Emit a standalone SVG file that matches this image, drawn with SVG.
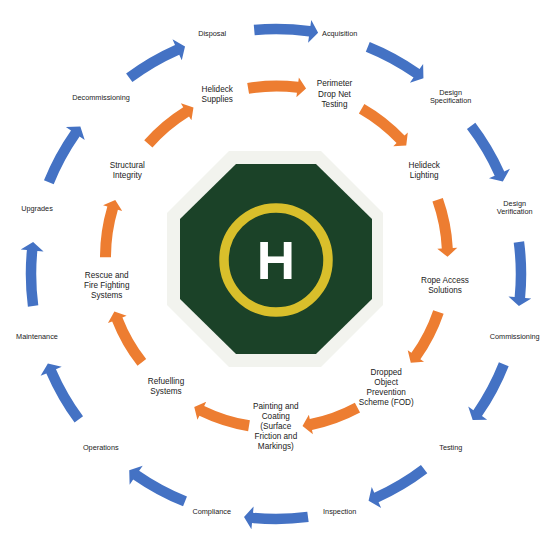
<svg xmlns="http://www.w3.org/2000/svg" width="555" height="545" viewBox="0 0 555 545">
<style>
  .o { font-family: "Liberation Sans", Arial, sans-serif; font-size: 7.3px; fill: #222; text-anchor: middle; }
  .i { font-family: "Liberation Sans", Arial, sans-serif; font-size: 8.2px; fill: #222; text-anchor: middle; }
  .blue { fill: #4472C4; }
  .orange { fill: #ED7D31; }
</style>
<defs>
  <path id="arB" d="M243.34,25.89 A250.25,250.25 0 0 1 299.99,24.90 L300.58,18.68 L307.98,31.10 L298.38,41.57 L298.98,35.35 A239.75,239.75 0 0 0 244.71,36.30 Z"/>
  <path id="arO" d="M246.61,83.05 A176.5,176.5 0 0 1 297.70,81.78 L298.25,77.31 L305.46,88.47 L295.84,97.17 L296.38,92.70 A165.5,165.5 0 0 0 248.47,93.89 Z"/>
</defs>
<rect width="555" height="545" fill="#fff"/>

<g id="helipad">
  <polygon points="229,151 321,151 383,213 383,305 321,367 229,367 167,305 167,213" fill="#F2F3EE"/>
  <polygon points="236,164 316,164 372,219 372,299 316,354 236,354 180,299 180,219" fill="#1B4228"/>
  <circle cx="276" cy="260" r="52" fill="none" stroke="#D9BF2B" stroke-width="9.5"/>
  <text x="276" y="279" font-family="Liberation Sans, Arial, sans-serif" font-weight="bold" font-size="53" fill="#fff" text-anchor="middle">H</text>
</g>

<g id="connectors">
  <g class="blue">
    <use href="#arB" transform="rotate(2.4 276 274)"/>
    <use href="#arB" transform="rotate(29.5 276 274)"/>
    <use href="#arB" transform="rotate(60.3 276 274)"/>
    <use href="#arB" transform="rotate(90 276 274)"/>
    <use href="#arB" transform="rotate(119.1 276 274)"/>
    <use href="#arB" transform="rotate(150.3 276 274)"/>
    <use href="#arB" transform="rotate(180 276 274)"/>
    <use href="#arB" transform="rotate(209.3 276 274)"/>
    <use href="#arB" transform="rotate(241.1 276 274)"/>
    <use href="#arB" transform="rotate(270 276 274)"/>
    <use href="#arB" transform="rotate(299.5 276 274)"/>
    <use href="#arB" transform="rotate(330.7 276 274)"/>
  </g>
  <g class="orange">
    <use href="#arO" transform="rotate(0.2 276.5 257)"/>
    <use href="#arO" transform="rotate(39.6 276.5 257)"/>
    <use href="#arO" transform="rotate(80.2 276.5 257)"/>
    <use href="#arO" transform="rotate(118.5 276.5 257)"/>
    <use href="#arO" transform="rotate(161.5 276.5 257)"/>
    <use href="#arO" transform="rotate(199 276.5 257)"/>
    <use href="#arO" transform="rotate(241.7 276.5 257)"/>
    <use href="#arO" transform="rotate(279.7 276.5 257)"/>
    <use href="#arO" transform="rotate(321.2 276.5 257)"/>
  </g>
</g>

<g id="disposal"><text class="o" x="212.2" y="35.8">Disposal</text></g>
<g id="acquisition"><text class="o" x="339.7" y="35.8">Acquisition</text></g>
<g id="design-specification"><text class="o" x="450.6" y="94.8">Design</text><text class="o" x="450.6" y="103.2">Specification</text></g>
<g id="design-verification"><text class="o" x="514.7" y="205.8">Design</text><text class="o" x="514.7" y="213.8">Verification</text></g>
<g id="commissioning"><text class="o" x="514.7" y="339.2">Commissioning</text></g>
<g id="testing"><text class="o" x="450.8" y="449.8">Testing</text></g>
<g id="inspection"><text class="o" x="339.7" y="514.2">Inspection</text></g>
<g id="compliance"><text class="o" x="211.7" y="514.2">Compliance</text></g>
<g id="operations"><text class="o" x="100.8" y="449.8">Operations</text></g>
<g id="maintenance"><text class="o" x="37" y="338.8">Maintenance</text></g>
<g id="upgrades"><text class="o" x="37" y="211.2">Upgrades</text></g>
<g id="decommissioning"><text class="o" x="101" y="99.8">Decommissioning</text></g>

<g id="helideck-supplies"><text class="i" x="217.2" y="92.1">Helideck</text><text class="i" x="217.2" y="102.1">Supplies</text></g>
<g id="perimeter-drop-net"><text class="i" x="334.5" y="86.4">Perimeter</text><text class="i" x="334.5" y="96.7">Drop Net</text><text class="i" x="334.5" y="106.9">Testing</text></g>
<g id="helideck-lighting"><text class="i" x="424.2" y="167.7">Helideck</text><text class="i" x="424.2" y="177.7">Lighting</text></g>
<g id="rope-access"><text class="i" x="445" y="282.7">Rope Access</text><text class="i" x="445" y="292.7">Solutions</text></g>
<g id="dropped-object"><text class="i" x="386.2" y="374.7">Dropped</text><text class="i" x="386.2" y="384.7">Object</text><text class="i" x="386.2" y="394.7">Prevention</text><text class="i" x="386.2" y="404.7">Scheme (FOD)</text></g>
<g id="painting-coating"><text class="i" x="275.8" y="409.4">Painting and</text><text class="i" x="275.8" y="419.4">Coating</text><text class="i" x="275.8" y="429.4">(Surface</text><text class="i" x="275.8" y="439.4">Friction and</text><text class="i" x="275.8" y="449.4">Markings)</text></g>
<g id="refuelling"><text class="i" x="166" y="384.4">Refuelling</text><text class="i" x="166" y="394.4">Systems</text></g>
<g id="rescue-fire"><text class="i" x="106.7" y="277.7">Rescue and</text><text class="i" x="106.7" y="287.7">Fire Fighting</text><text class="i" x="106.7" y="297.7">Systems</text></g>
<g id="structural-integrity"><text class="i" x="127.3" y="167.7">Structural</text><text class="i" x="127.3" y="177.7">Integrity</text></g>
</svg>
